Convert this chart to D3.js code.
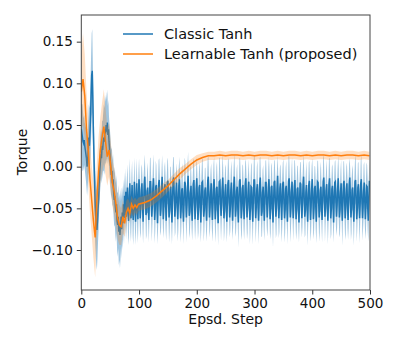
<!DOCTYPE html>
<html>

<head>
    <meta charset="UTF-8">
    <title>Classic vs learnable tanh torque</title>
    <script src="https://d3js.org/d3.v7.min.js"></script>
    <style>
        body { margin: 0; background: #fff; }
        text { font-family: "DejaVu Sans", sans-serif; }
    </style>
</head>

<body>
    <script>
        // torque values in thousandths, one per episode step (0..499)
        const classicMean = [
            45, 40, 35, 30, 28, 32, 25, 20, 15, 10, 0, 5, 20, 35, 25, 40, 60, 85, 110, 115,
            80, 40, 10, -20, -45, -60, -70, -76, -65, -50, -40, -20, -5, 5, 15, 10, 25, 20, 30, 35,
            30, 45, 40, 50, 42, 53, 38, 45, 30, 20, 10, 0, -10, -5, -20, -15, -30, -40, -35, -48,
            -55, -45, -65, -70, -60, -78, -72, -82, -70, -60, -75, -55, -68, -45, -62, -35, -58, -30, -60, -40,
            -25, -55, -65, -40, -20, -50, -62, -38, -22, -55, -64, -42, -18, -48, -66, -40, -20, -50, -63, -35,
            -15, -38, -62, -50, -28, -20, -45, -66, -42, -22, -12, -35, -58, -55, -30, -25, -48, -64, -38, -18,
            -18, -40, -60, -48, -26, -14, -36, -64, -52, -24, -22, -46, -68, -44, -20, -16, -39, -59, -51, -29,
            -12, -37, -63, -47, -25, -21, -44, -65, -41, -19, -17, -41, -61, -53, -27, -24, -47, -67, -39, -16,
            -13, -34, -60, -49, -31, -19, -43, -63, -45, -23, -15, -38, -62, -50, -28, -26, -49, -66, -40, -18,
            -20, -42, -61, -46, -24, -11, -35, -59, -54, -32, -23, -47, -65, -43, -21, -16, -40, -63, -49, -27,
            -14, -37, -64, -51, -25, -22, -45, -67, -42, -19, -18, -40, -60, -52, -29, -25, -48, -65, -41, -17,
            -12, -36, -61, -48, -30, -20, -44, -64, -46, -22, -15, -39, -63, -50, -26, -24, -46, -68, -39, -18,
            -17, -41, -59, -47, -27, -13, -34, -62, -53, -31, -21, -45, -66, -44, -20, -16, -38, -61, -51, -28,
            -19, -43, -65, -45, -23, -12, -36, -60, -50, -29, -24, -48, -67, -40, -17, -15, -37, -62, -52, -26,
            -22, -46, -63, -43, -21, -14, -39, -61, -49, -30, -18, -42, -64, -47, -24, -25, -49, -66, -38, -16,
            -16, -39, -62, -49, -27, -21, -44, -65, -43, -21, -13, -36, -59, -54, -31, -24, -47, -65, -39, -19,
            -19, -41, -61, -47, -25, -15, -37, -63, -51, -25, -23, -47, -67, -43, -19, -17, -40, -60, -50, -28,
            -11, -36, -62, -48, -26, -20, -43, -64, -42, -20, -18, -42, -62, -52, -26, -23, -46, -66, -40, -17,
            -14, -35, -61, -50, -30, -18, -42, -62, -44, -24, -16, -39, -63, -49, -27, -25, -48, -67, -41, -19,
            -21, -43, -62, -45, -23, -12, -36, -60, -53, -31, -22, -46, -66, -44, -22, -17, -41, -64, -48, -26,
            -15, -38, -63, -50, -26, -23, -46, -66, -41, -18, -19, -41, -61, -51, -28, -24, -47, -64, -42, -18,
            -13, -37, -60, -47, -29, -21, -45, -65, -45, -21, -14, -38, -62, -51, -27, -23, -45, -67, -40, -19,
            -18, -42, -60, -46, -26, -14, -35, -61, -52, -30, -20, -44, -65, -45, -21, -17, -39, -62, -50, -27,
            -20, -44, -64, -44, -22, -13, -37, -61, -49, -28, -25, -49, -66, -41, -18, -16, -38, -63, -51, -25,
            -21, -45, -62, -44, -20, -15, -40, -62, -48, -29, -19, -43, -63, -46, -23, -24, -48, -65, -39, -17
        ];

        const classicStd = [
            30, 35, 40, 35, 30, 30, 28, 30, 32, 35, 35, 30, 35, 40, 45, 40, 45, 50, 50, 50,
            45, 40, 40, 40, 45, 45, 48, 48, 45, 40, 35, 30, 30, 30, 30, 30, 30, 35, 35, 40,
            40, 40, 38, 40, 38, 40, 35, 35, 30, 30, 30, 30, 30, 28, 28, 30, 30, 32, 35, 35,
            35, 35, 35, 38, 38, 40, 40, 40, 38, 35, 35, 32, 32, 30, 30, 28, 28, 28, 28, 28,
            28, 30, 29, 28, 30, 29, 28, 30, 29, 28, 30, 28, 29, 30, 28, 29, 30, 28, 29, 28,
            25, 28, 24, 30, 27, 23, 29, 26, 31, 25, 27, 24, 29, 28, 26, 30, 25, 27, 23, 29,
            28, 25, 30, 24, 27, 29, 23, 28, 26, 31, 24, 27, 25, 30, 28, 26, 29, 24, 27, 25,
            26, 30, 23, 28, 25, 27, 31, 24, 29, 26, 28, 23, 30, 25, 27, 24, 28, 26, 31, 27,
            25, 29, 24, 30, 26, 23, 28, 27, 31, 25, 27, 25, 29, 28, 26, 30, 24, 27, 23, 29,
            27, 25, 30, 24, 28, 29, 23, 27, 26, 31, 25, 27, 24, 30, 28, 26, 29, 25, 27, 24,
            26, 29, 23, 28, 25, 27, 30, 24, 29, 27, 28, 23, 30, 26, 27, 24, 28, 25, 31, 27,
            25, 28, 24, 29, 27, 24, 29, 26, 30, 25, 27, 24, 28, 28, 26, 30, 25, 27, 23, 28,
            28, 26, 30, 24, 27, 29, 24, 28, 26, 30, 24, 27, 25, 29, 28, 26, 29, 24, 26, 25,
            26, 30, 23, 27, 25, 28, 31, 24, 29, 26, 27, 23, 30, 25, 27, 25, 28, 26, 30, 27,
            25, 28, 25, 30, 27, 23, 29, 26, 31, 24, 27, 24, 29, 27, 26, 30, 25, 28, 23, 29,
            28, 25, 29, 24, 27, 28, 23, 28, 26, 31, 25, 27, 25, 30, 27, 26, 29, 24, 27, 26,
            27, 30, 23, 28, 25, 27, 30, 24, 29, 26, 28, 24, 30, 25, 27, 24, 28, 26, 31, 26,
            25, 28, 24, 30, 26, 23, 29, 27, 31, 25, 27, 24, 29, 28, 25, 30, 25, 27, 24, 29,
            28, 25, 30, 25, 27, 29, 23, 27, 26, 31, 24, 28, 25, 30, 28, 26, 28, 24, 27, 25,
            26, 29, 23, 28, 25, 27, 31, 25, 29, 26, 28, 23, 29, 25, 27, 24, 28, 26, 30, 27,
            25, 28, 24, 30, 27, 23, 29, 26, 31, 25, 26, 24, 29, 28, 26, 30, 25, 27, 23, 28,
            28, 25, 30, 24, 27, 29, 24, 28, 26, 31, 24, 27, 25, 30, 27, 26, 29, 24, 27, 25,
            26, 30, 23, 28, 25, 27, 31, 24, 29, 27, 28, 23, 30, 25, 27, 24, 28, 26, 31, 27,
            25, 29, 24, 30, 26, 23, 28, 27, 31, 25, 27, 25, 29, 28, 26, 30, 24, 27, 23, 29,
            27, 25, 30, 24, 28, 29, 23, 27, 26, 31, 25, 27, 24, 30, 28, 26, 29, 25, 27, 24
        ];

        const learnSteps = [
            0, 3, 6, 9, 12, 15, 18, 21, 24, 27, 30, 33, 36, 39, 42, 45, 48, 51, 54, 57,
            60, 63, 66, 69, 72, 75, 78, 81, 84, 87, 90, 93, 96, 99,
            110, 120, 130, 140, 150, 160, 170, 180, 190, 200, 210, 220, 230, 240, 250, 260,
            270, 280, 290, 300, 310, 320, 330, 340, 350, 360, 370, 380, 390, 400, 410, 420,
            430, 440, 450, 460, 470, 480, 490, 499
        ];
        const learnMean = [
            90, 105, 85, 45, 20, -15, -40, -65, -85, -40, -5, 20, 35, 48, 30, 12, 20, 0, -20, -30,
            -45, -62, -70, -72, -60, -68, -55, -50, -56, -45, -50, -46, -49, -45,
            -43, -40, -35, -29, -23, -16, -9, -3, 3, 8, 11, 13, 13, 14, 13, 14,
            14, 13, 14, 13, 14, 14, 13, 14, 13, 14, 14, 13, 14, 13, 14, 14,
            13, 14, 13, 14, 14, 13, 14, 13
        ];
        const learnStd = [
            45, 55, 50, 45, 40, 40, 42, 45, 48, 45, 42, 40, 42, 45, 40, 35, 32, 30, 28, 28,
            26, 25, 24, 22, 20, 16, 14, 12, 12, 10, 10, 9, 9, 8,
            8, 8, 8, 8, 7, 7, 7, 6, 6, 6, 5, 5, 5, 5, 5, 5,
            5, 5, 5, 5, 5, 5, 5, 5, 5, 5, 5, 5, 5, 5, 5, 5,
            5, 5, 5, 5, 5, 5, 5, 5
        ];

        const yTicks = [-0.10, -0.05, 0.00, 0.05, 0.10, 0.15];
        const xTicks = [0, 100, 200, 300, 400, 500];

        const width = 399, height = 342;
        const margin = { left: 81.3, right: 370, top: 15, bottom: 290 };

        const classic = classicMean.map((m, i) => ({ x: i, m: m / 1000, s: classicStd[i] / 1000 }));
        const learn = learnSteps.map((x, i) => ({ x: x, m: learnMean[i] / 1000, s: learnStd[i] / 1000 }));

        const x = d3.scaleLinear().domain([0, 500]).range([margin.left, margin.right]);
        const y = d3.scaleLinear().domain([-0.148, 0.182]).range([margin.bottom, margin.top]);

        const svg = d3.select("body").append("svg")
            .attr("width", width).attr("height", height);

        svg.append("clipPath").attr("id", "plot")
            .append("rect")
            .attr("x", margin.left).attr("y", margin.top)
            .attr("width", margin.right - margin.left).attr("height", margin.bottom - margin.top);

        const area = d3.area()
            .x(d => x(d.x))
            .y0(d => y(d.m - d.s))
            .y1(d => y(d.m + d.s));
        const line = d3.line()
            .x(d => x(d.x))
            .y(d => y(d.m));

        const g = svg.append("g").attr("clip-path", "url(#plot)");

        g.append("path").attr("d", area(classic))
            .attr("fill", "#1f77b4").attr("fill-opacity", 0.42);
        g.append("path").attr("d", line(classic))
            .attr("fill", "none").attr("stroke", "#1f77b4").attr("stroke-width", 1.5);

        g.append("path").attr("d", area(learn))
            .attr("fill", "#ff7f0e").attr("fill-opacity", 0.25);
        g.append("path").attr("d", line(learn))
            .attr("fill", "none").attr("stroke", "#ff7f0e").attr("stroke-width", 1.5);

        // axes
        const xAxis = svg.append("g")
            .attr("transform", `translate(0, ${margin.bottom})`)
            .call(d3.axisBottom(x).tickValues(xTicks).tickFormat(d3.format("d"))
                .tickSize(4.5).tickPadding(4));
        const yAxis = svg.append("g")
            .attr("transform", `translate(${margin.left}, 0)`)
            .call(d3.axisLeft(y).tickValues(yTicks).tickFormat(d => d3.format(".2f")(d).replace("-", "\u2212"))
                .tickSize(4.5).tickPadding(4));

        [xAxis, yAxis].forEach(a => {
            a.select(".domain").remove();
            a.selectAll("line").attr("stroke", "#333").attr("stroke-width", 1);
            a.selectAll("text").attr("font-size", 13.5).attr("fill", "#111")
                .style("font-family", "'DejaVu Sans', sans-serif");
        });

        // frame
        svg.append("rect")
            .attr("x", margin.left).attr("y", margin.top)
            .attr("width", margin.right - margin.left).attr("height", margin.bottom - margin.top)
            .attr("fill", "none").attr("stroke", "#444").attr("stroke-width", 1);

        svg.append("text")
            .attr("x", (margin.left + margin.right) / 2).attr("y", 324)
            .attr("text-anchor", "middle").attr("font-size", 14).attr("fill", "#111")
            .text("Epsd. Step");
        svg.append("text")
            .attr("transform", "translate(27, 152) rotate(-90)")
            .attr("text-anchor", "middle").attr("font-size", 14).attr("fill", "#111")
            .text("Torque");

        // legend
        const legend = [
            { name: "Classic Tanh", color: "#1f77b4" },
            { name: "Learnable Tanh (proposed)", color: "#ff7f0e" }
        ];
        const lg = svg.append("g").selectAll("g").data(legend).enter().append("g")
            .attr("transform", (d, i) => `translate(123, ${34 + i * 20})`);
        lg.append("line").attr("x1", 0).attr("x2", 30)
            .attr("stroke", d => d.color).attr("stroke-width", 1.5);
        lg.append("text").attr("x", 41).attr("y", 5)
            .attr("font-size", 14.5).attr("fill", "#111")
            .text(d => d.name);
    </script>
</body>

</html>
